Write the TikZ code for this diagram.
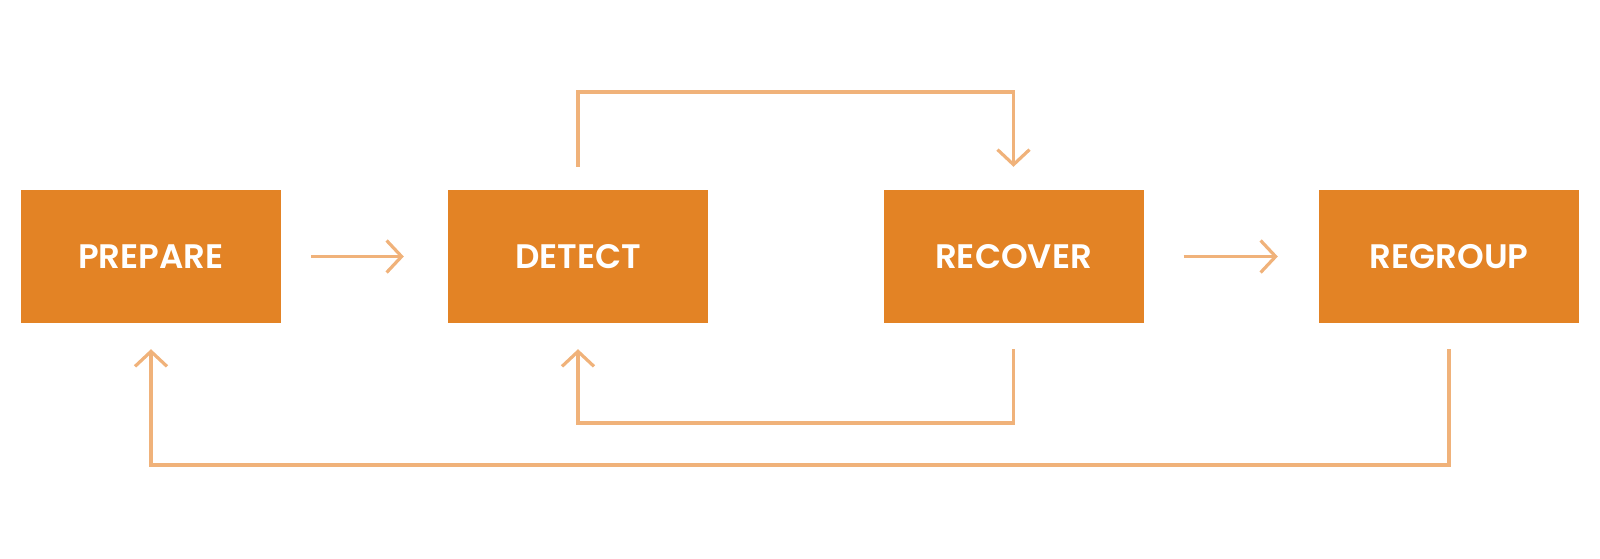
\documentclass[tikz,border=0pt]{standalone}
\usepackage{fontspec}
\setmainfont{Poppins}[BoldFont={Poppins SemiBold}]
\usetikzlibrary{arrows.meta,calc}
\definecolor{boxc}{HTML}{E38325}
\definecolor{linec}{HTML}{F0B27A}
\tikzset{
  stage/.style={fill=boxc, draw=none, minimum width=260pt, minimum height=133pt, inner sep=0pt,
    text=white, font=\fontsize{34}{40}\selectfont\bfseries},
  flow/.style={draw=linec, line width=3.2pt, -{Straight Barb[length=15pt,width=32pt,line width=3.2pt]}},
}
\begin{document}
\begin{tikzpicture}[x=1pt,y=-1pt]
\useasboundingbox (0,0) rectangle (1600,558);
\node[stage] (prepare) at (151,256.5) {PREPARE};
\node[stage] (detect) at (578,256.5) {DETECT};
\node[stage] (recover) at (1013.5,256.5) {RECOVER};
\node[stage] (regroup) at (1449,256.5) {REGROUP};
\coordinate (topy) at (0,92);
\coordinate (midy) at (0,423);
\coordinate (lowy) at (0,465);
\coordinate (dtop) at ($(detect.north)+(0,-23)$);
\coordinate (rtop) at ($(recover.north)+(0,-23)$);
\coordinate (rbot) at ($(recover.south)+(0,26)$);
\coordinate (dbot) at ($(detect.south)+(0,26)$);
\coordinate (gbot) at ($(regroup.south)+(0,26)$);
\coordinate (pbot) at ($(prepare.south)+(0,26)$);
% horizontal arrows
\draw[flow] ($(prepare.east)+(30,0)$) -- ($(detect.west)+(-44,0)$);
\draw[flow] ($(recover.east)+(40,0)$) -- ($(regroup.west)+(-41,0)$);
% top loop detect -> recover
\draw[flow] (dtop) -- (dtop |- topy) -| (rtop);
% bottom loop recover -> detect
\draw[flow] (rbot) -- (rbot |- midy) -| (dbot);
% bottom loop regroup -> prepare
\draw[flow] (gbot) -- (gbot |- lowy) -| (pbot);
\end{tikzpicture}
\end{document}
